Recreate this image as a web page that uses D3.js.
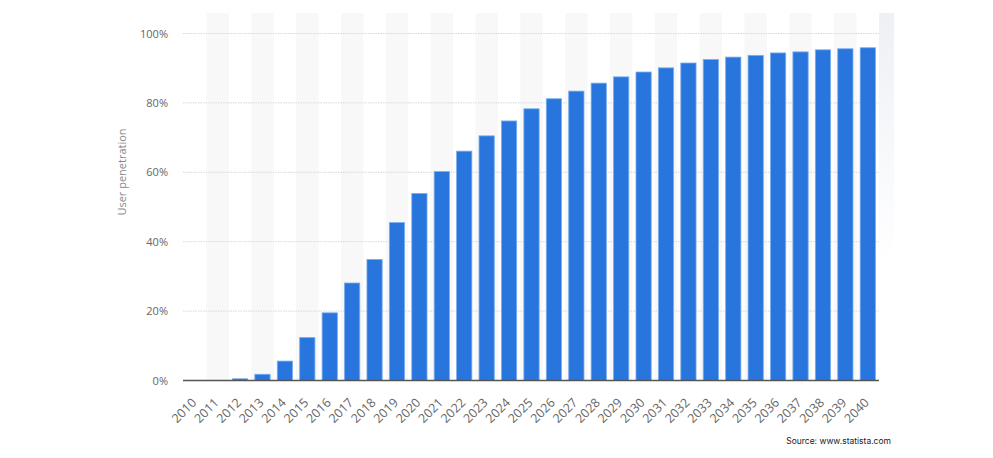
<!DOCTYPE html>
<html>
<head>
<meta charset="utf-8">
<script src="https://cdn.jsdelivr.net/npm/d3@7"></script>
<style>
  html, body { margin: 0; padding: 0; background: #fff; }
  svg { display: block; }
</style>
</head>
<body>
<svg id="chart" width="993" height="458"></svg>
<script>
const years = ["2010","2011","2012","2013","2014","2015","2016","2017","2018","2019","2020",
  "2021","2022","2023","2024","2025","2026","2027","2028","2029","2030",
  "2031","2032","2033","2034","2035","2036","2037","2038","2039","2040"];
const penetration = [0, 0, 0.5, 1.8, 5.6, 12.4, 19.5, 28.1, 34.9, 45.5, 53.9,
  60.2, 66.1, 70.5, 74.8, 78.3, 81.2, 83.4, 85.7, 87.5, 88.9,
  90.1, 91.5, 92.5, 93.2, 93.7, 94.4, 94.7, 95.3, 95.6, 95.9];
const yTicks = [0, 20, 40, 60, 80, 100];
const yTitle = "User penetration";
const sourceText = "Source: www.statista.com";

const svg = d3.select("#chart");
const mLeft = 184, mRight = 879, mTop = 33.5, mBottom = 380.5;

const x = d3.scaleBand().domain(years).range([mLeft, mRight]).paddingInner(0.32).paddingOuter(0.16);
const xBand = d3.scaleBand().domain(years).range([mLeft, mRight]).padding(0);
const y = d3.scaleLinear().domain([0, 100]).range([mBottom, mTop]);

const defs = svg.append("defs");
const grad = defs.append("linearGradient").attr("id", "edge").attr("x1", 0).attr("y1", 0).attr("x2", 0).attr("y2", 1);
grad.append("stop").attr("offset", "0%").attr("stop-color", "#edf0f5").attr("stop-opacity", 1);
grad.append("stop").attr("offset", "100%").attr("stop-color", "#edf0f5").attr("stop-opacity", 0);

// right edge faint shading
svg.append("rect").attr("x", mRight).attr("y", 13).attr("width", 15).attr("height", 250)
  .attr("fill", "url(#edge)");

// alternating column shading
svg.append("g").selectAll("rect")
  .data(years.filter((d, i) => i % 2 === 1))
  .join("rect")
  .attr("x", d => xBand(d))
  .attr("y", 13)
  .attr("width", xBand.bandwidth())
  .attr("height", mBottom - 13)
  .attr("fill", "#f8f8f8");

// gridlines
svg.append("g").selectAll("line")
  .data(yTicks.filter(t => t > 0))
  .join("line")
  .attr("x1", mLeft - 1).attr("x2", mRight)
  .attr("y1", d => y(d)).attr("y2", d => y(d))
  .attr("stroke", "#d8d8d8")
  .attr("stroke-width", 1)
  .attr("stroke-dasharray", "1.5,1");

// y axis labels
const yAxis = d3.axisLeft(y).tickValues(yTicks).tickFormat(d => d + "%").tickSize(0).tickPadding(16);
const gy = svg.append("g").attr("transform", `translate(${mLeft},0)`).call(yAxis);
gy.select(".domain").remove();
gy.selectAll("text")
  .attr("font-family", "'Open Sans', sans-serif")
  .attr("font-size", "11px")
  .attr("fill", "#666");

// y title
svg.append("text")
  .attr("transform", `translate(126,${(127 + 217) / 2}) rotate(-90)`)
  .attr("text-anchor", "middle")
  .attr("font-family", "'Open Sans', sans-serif")
  .attr("font-size", "11px")
  .attr("fill", "#888")
  .text(yTitle);

// bars
svg.append("g").selectAll("rect")
  .data(years.map((d, i) => ({ year: d, value: penetration[i] })).filter(d => d.value > 0))
  .join("rect")
  .attr("x", d => x(d.year))
  .attr("y", d => y(d.value))
  .attr("width", x.bandwidth())
  .attr("height", d => mBottom - y(d.value))
  .attr("fill", "#2876dd")
  .attr("stroke", "#7aaeee")
  .attr("stroke-width", 0.8);

// x axis
const xAxis = d3.axisBottom(x).tickSize(0).tickPadding(0);
const gx = svg.append("g").attr("transform", `translate(0,${mBottom})`).call(xAxis);
gx.select(".domain").remove();
gx.selectAll("text")
  .attr("font-family", "'Open Sans', sans-serif")
  .attr("font-size", "12.5px")
  .attr("fill", "#666")
  .attr("text-anchor", "end")
  .attr("dy", "0")
  .attr("y", 0)
  .attr("transform", "translate(2,23) rotate(-45)");

svg.append("line")
  .attr("x1", mLeft - 1).attr("x2", mRight)
  .attr("y1", mBottom).attr("y2", mBottom)
  .attr("stroke", "#555")
  .attr("stroke-width", 1.5);

// source
svg.append("text")
  .attr("x", 891).attr("y", 444)
  .attr("text-anchor", "end")
  .attr("font-family", "Inter, 'Open Sans', sans-serif")
  .attr("font-size", "8.5px")
  .attr("fill", "#222")
  .text(sourceText);
</script>
</body>
</html>
